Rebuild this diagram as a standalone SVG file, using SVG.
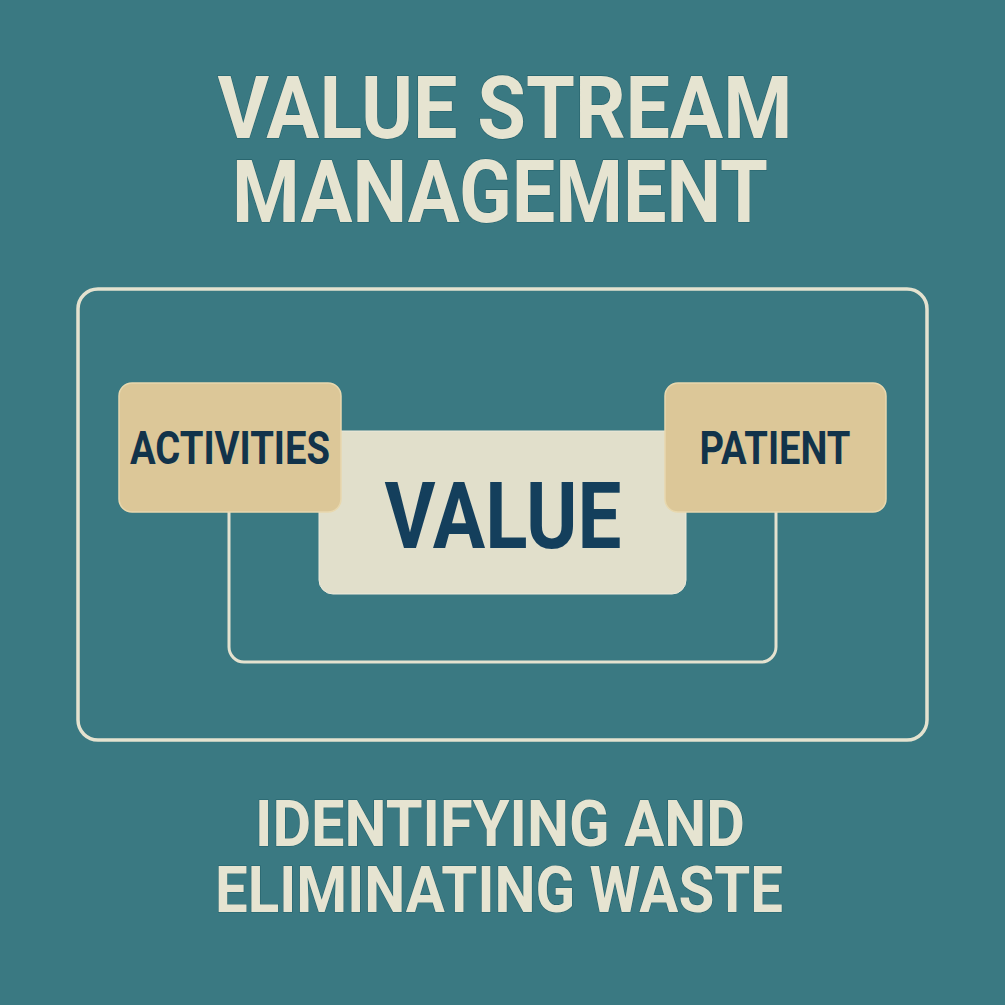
<svg xmlns="http://www.w3.org/2000/svg" width="1005" height="1005" viewBox="0 0 1005 1005">
  <defs>
    <style>
      .bg { fill: #3a7982; }
      .frame { fill: none; stroke: #e4e2cf; stroke-width: 3.5; }
      .conn { fill: none; stroke: #e4e2cf; stroke-width: 3; }
      .tan { fill: #dcc798; stroke: #e8d8ae; stroke-width: 1.5; }
      .cream { fill: #e1dfcb; stroke: #eceadb; stroke-width: 1; }
      .hdr { font-family: Roboto, "Liberation Sans", sans-serif; font-weight: 700; fill: #e6e4d1; text-anchor: middle; stroke: #24606a; stroke-width: 1.2; paint-order: stroke; }
      .lbl { font-family: Roboto, "Liberation Sans", sans-serif; font-weight: 700; fill: #12334a; text-anchor: middle; }
    </style>
  </defs>
  <rect class="bg" x="0" y="0" width="1005" height="1005"/>

  <g id="title">
    <text class="hdr" x="505" y="138" font-size="88" textLength="575" lengthAdjust="spacingAndGlyphs">VALUE STREAM</text>
    <text class="hdr" x="500" y="222" font-size="88" textLength="536" lengthAdjust="spacingAndGlyphs">MANAGEMENT</text>
  </g>

  <g id="frame">
    <rect class="frame" x="78" y="289" width="849" height="451" rx="20"/>
  </g>

  <g id="connectors">
    <path class="conn" d="M229,500 V647 A15,15 0 0 0 244,662 H761 A15,15 0 0 0 776,647 V500"/>
  </g>

  <g id="value">
    <rect class="cream" x="319" y="431" width="367" height="163" rx="14"/>
    <text class="lbl" x="503" y="548" font-size="93" textLength="237" lengthAdjust="spacingAndGlyphs" fill="#143f5c" style="fill:#143f5c">VALUE</text>
  </g>

  <g id="activities">
    <rect class="tan" x="119" y="383" width="222" height="129" rx="13"/>
    <text class="lbl" x="230" y="464" font-size="46" textLength="200" lengthAdjust="spacingAndGlyphs">ACTIVITIES</text>
  </g>

  <g id="patient">
    <rect class="tan" x="665" y="383" width="221" height="129" rx="13"/>
    <text class="lbl" x="775" y="464" font-size="46" textLength="151" lengthAdjust="spacingAndGlyphs">PATIENT</text>
  </g>

  <g id="subtitle">
    <text class="hdr" x="500" y="846" font-size="64" textLength="490" lengthAdjust="spacingAndGlyphs">IDENTIFYING AND</text>
    <text class="hdr" x="499" y="912" font-size="64" textLength="568" lengthAdjust="spacingAndGlyphs">ELIMINATING WASTE</text>
  </g>
</svg>
